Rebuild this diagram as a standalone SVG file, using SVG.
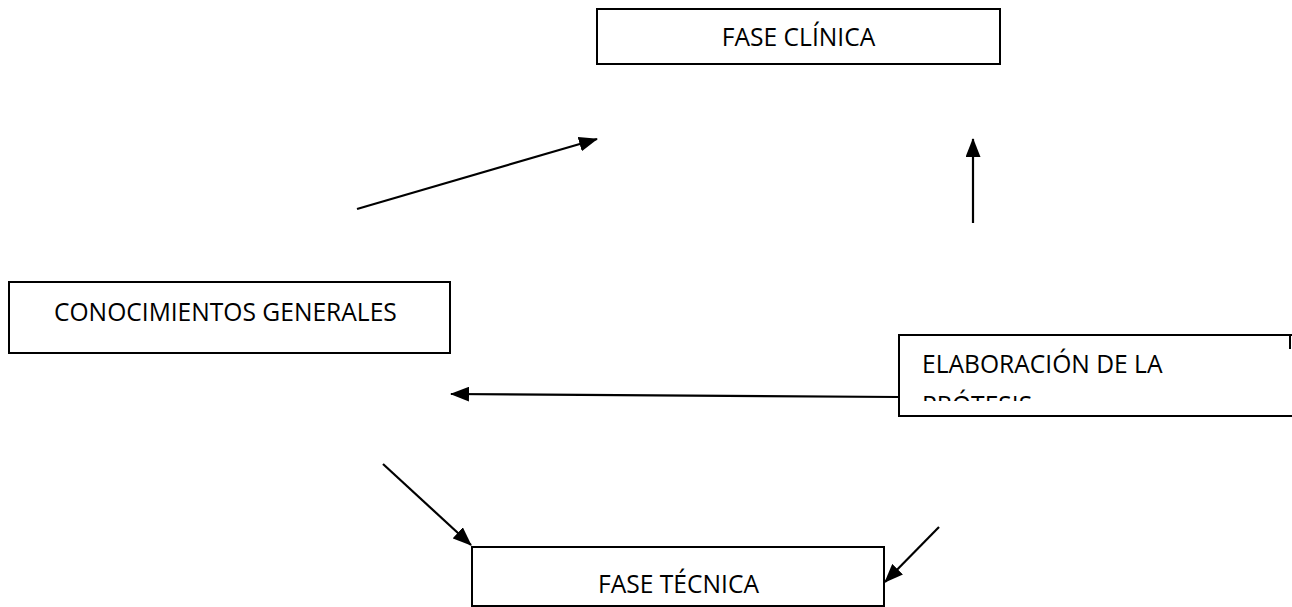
<svg xmlns="http://www.w3.org/2000/svg" width="1292" height="607" viewBox="0 0 1292 607">
<style>
.box{fill:#fff;stroke:#000;stroke-width:2}
.t{font-family:"Open Sans","Liberation Sans",sans-serif;font-size:24.6px;fill:#000}
.c{stroke:#000;stroke-width:2.2;fill:none;marker-end:url(#ah)}
</style>
<defs>
<marker id="ah" viewBox="0 0 19 15" refX="18" refY="7.5" markerWidth="19" markerHeight="15" markerUnits="userSpaceOnUse" orient="auto">
<path d="M0,0 L19,7.5 L0,15 Z" fill="#000"/>
</marker>
<clipPath id="clipE"><rect x="899" y="336" width="400" height="65"/></clipPath>
</defs>
<rect width="1292" height="607" fill="#fff"/>
<g id="fase-clinica">
<rect class="box" x="597" y="9" width="403" height="55"/>
<text class="t" x="798.5" y="46" text-anchor="middle">FASE CLÍNICA</text>
</g>
<g id="conocimientos">
<rect class="box" x="9" y="282" width="441" height="71"/>
<text class="t" x="54" y="321">CONOCIMIENTOS GENERALES</text>
</g>
<g id="elaboracion">
<path d="M1292,416 L899,416 L899,335 L1292,335 M1290,335 L1290,349" fill="#fff" stroke="#000" stroke-width="2"/>
<g clip-path="url(#clipE)">
<text class="t" x="922" y="373">ELABORACIÓN DE LA</text>
<text class="t" x="922" y="414">PRÓTESIS</text>
</g>
</g>
<g id="fase-tecnica">
<rect class="box" x="472" y="547" width="412" height="59"/>
<text class="t" x="678.5" y="593" text-anchor="middle">FASE TÉCNICA</text>
</g>
<g id="connectors">
<line class="c" x1="357" y1="209" x2="597" y2="139"/>
<line class="c" x1="973" y1="223" x2="973" y2="139"/>
<line class="c" x1="898" y1="397" x2="451" y2="394"/>
<line class="c" x1="383" y1="464" x2="471" y2="545"/>
<line class="c" x1="939" y1="527" x2="885" y2="582"/>
</g>
</svg>
